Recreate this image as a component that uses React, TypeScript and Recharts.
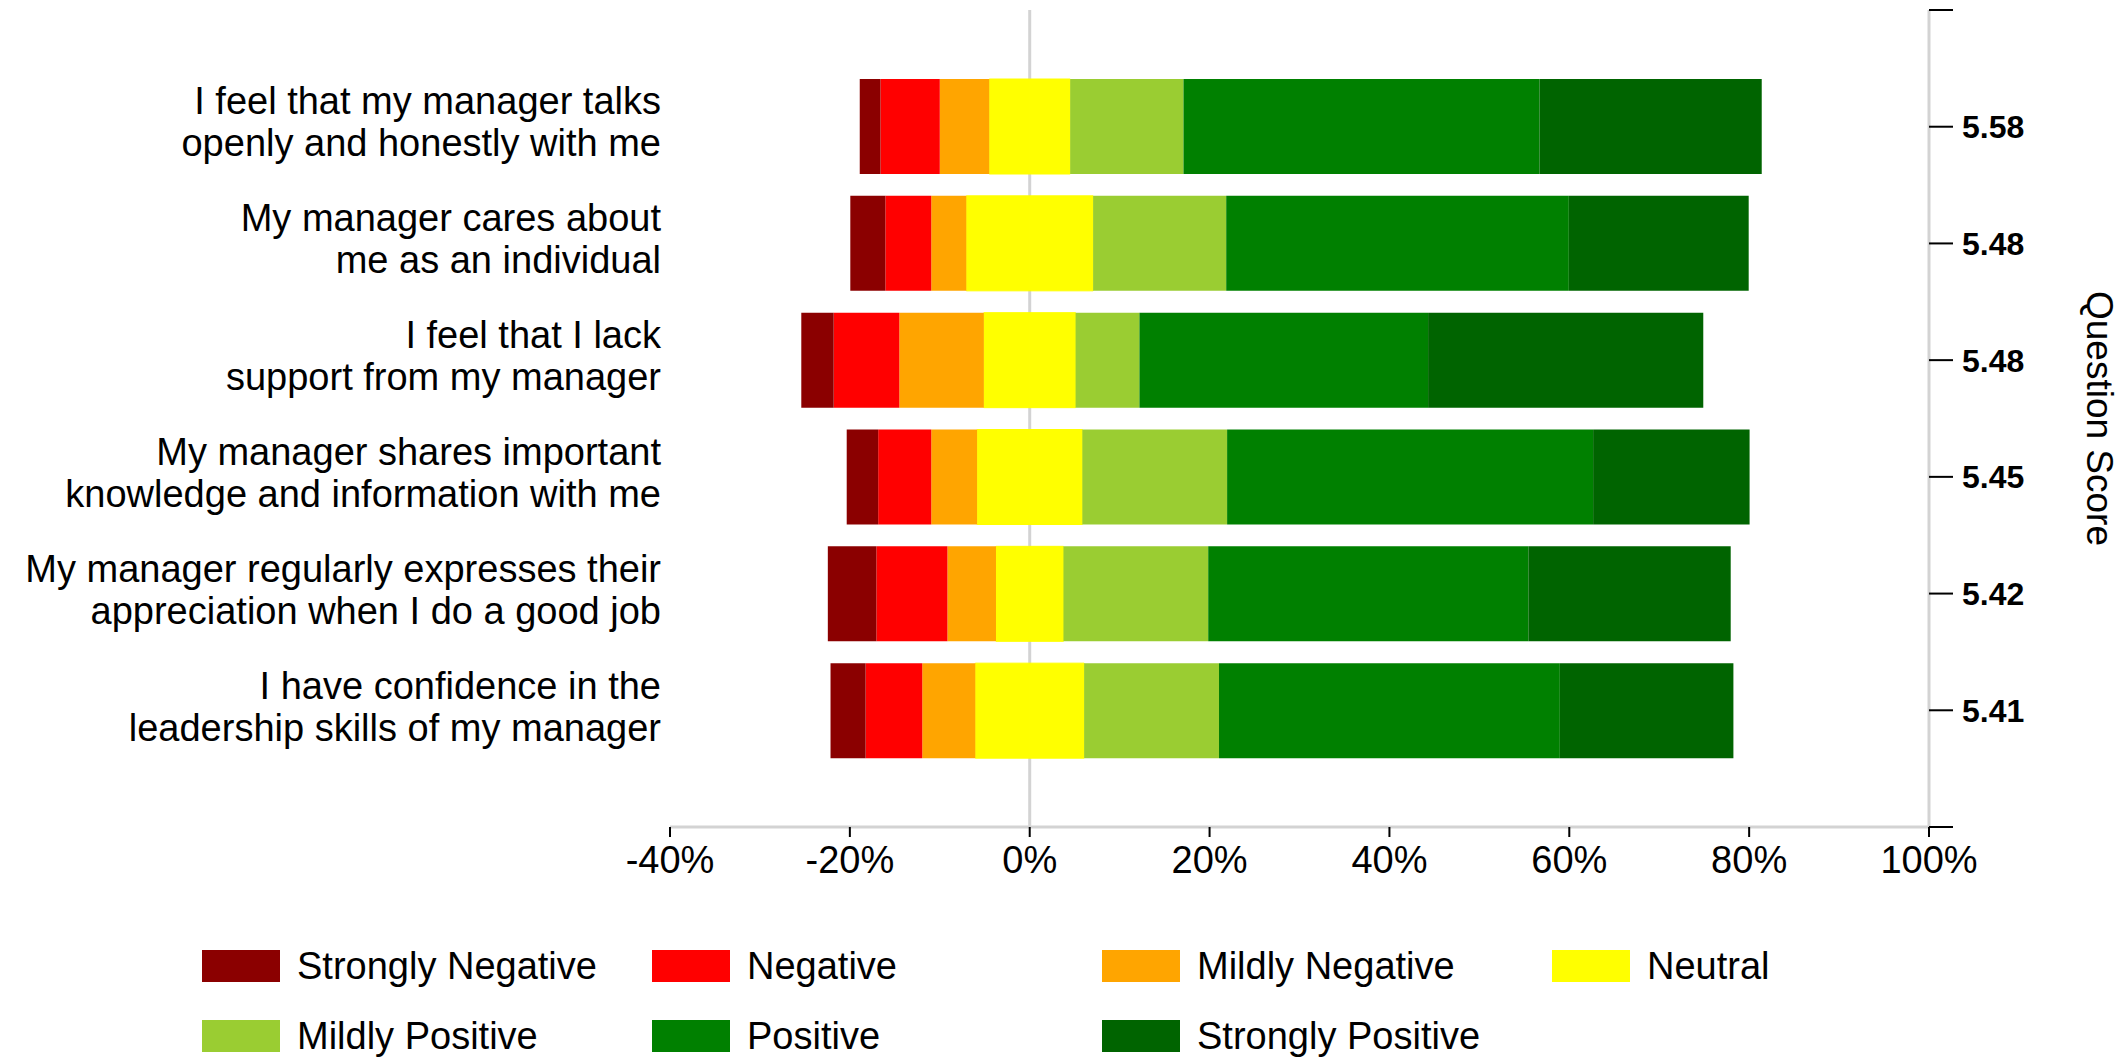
import React from 'react';
import { BarChart, Bar, XAxis, YAxis, CartesianGrid, Legend } from 'recharts';

const FONT = '"Liberation Sans", Arial, Helvetica, sans-serif';

const questions = [
  'I feel that my manager talks\nopenly and honestly with me',
  'My manager cares about\nme as an individual',
  'I feel that I lack\nsupport from my manager',
  'My manager shares important\nknowledge and information with me',
  'My manager regularly expresses their\nappreciation when I do a good job',
  'I have confidence in the\nleadership skills of my manager',
];
const scoreLabels = ['5.58', '5.48', '5.48', '5.45', '5.42', '5.41'];

const stronglyNegative = [2.3, 3.9, 3.6, 3.5, 5.4, 3.9];
const negative = [6.6, 5.1, 7.3, 5.9, 7.9, 6.3];
const mildlyNegative = [5.5, 3.9, 9.4, 5.1, 5.4, 5.9];
const neutral = [9.0, 14.1, 10.2, 11.7, 7.5, 12.1];
const mildlyPositive = [12.6, 14.8, 7.1, 16.1, 16.1, 15.0];
const positive = [39.6, 38.1, 32.1, 40.7, 35.6, 37.9];
const stronglyPositive = [24.7, 20.0, 30.6, 17.4, 22.5, 19.3];

const xTicks = [-40, -20, 0, 20, 40, 60, 80, 100];
const scoreTicks = [0, 1, 2, 3, 4, 5, 6, 7];
const zeroLine = [0];

const legendNames = [
  'Strongly Negative',
  'Negative',
  'Mildly Negative',
  'Neutral',
  'Mildly Positive',
  'Positive',
  'Strongly Positive',
];
const legendColors = ['#8B0000', '#FF0000', '#FFA500', '#FFFF00', '#9ACD32', '#008000', '#006400'];

const rows = questions.map((q, i) => ({
  question: q,
  pos: i + 1,
  neutralNeg: -neutral[i] / 2,
  neutralPos: neutral[i] / 2,
  mildlyNegative: -mildlyNegative[i],
  mildlyPositive: mildlyPositive[i],
  negative: -negative[i],
  positive: positive[i],
  stronglyNegative: -stronglyNegative[i],
  stronglyPositive: stronglyPositive[i],
}));

const QuestionTick = (props: any) => {
  const { x, y, payload } = props;
  const lines = String(payload.value).split('\n');
  return (
    <text x={x} y={y} textAnchor="end" fontSize={38} fill="#000" fontFamily={FONT}>
      {lines.map((l, i) => (
        <tspan key={i} x={x} y={y - 12 + i * 42}>
          {l}
        </tspan>
      ))}
    </text>
  );
};

const ScoreAxisLabel = (props: any) => {
  const vb = props.viewBox || {};
  const x = vb.x + 158;
  const y = vb.y + vb.height / 2;
  return (
    <text
      x={x}
      y={y}
      transform={`rotate(90, ${x}, ${y})`}
      textAnchor="middle"
      fontSize={37}
      fill="#000"
      fontFamily={FONT}
    >
      Question Score
    </text>
  );
};

const LegendGrid = () => (
  <div
    style={{
      display: 'grid',
      gridTemplateColumns: 'repeat(4, 450px)',
      rowGap: 38,
      paddingLeft: 202,
      fontFamily: FONT,
    }}
  >
    {legendNames.map((name, i) => (
      <div key={name} style={{ display: 'flex', alignItems: 'center', height: 32 }}>
        <div style={{ width: 78, height: 32, background: legendColors[i], marginRight: 17, flex: 'none' }} />
        <span style={{ fontSize: 38, lineHeight: '38px', color: '#000', whiteSpace: 'nowrap' }}>{name}</span>
      </div>
    ))}
  </div>
);

const seriesOrder: { key: string; color: string; name: string }[] = [
  { key: 'neutralNeg', color: legendColors[3], name: 'Neutral' },
  { key: 'neutralPos', color: legendColors[3], name: 'Neutral ' },
  { key: 'mildlyNegative', color: legendColors[2], name: 'Mildly Negative' },
  { key: 'mildlyPositive', color: legendColors[4], name: 'Mildly Positive' },
  { key: 'negative', color: legendColors[1], name: 'Negative' },
  { key: 'positive', color: legendColors[5], name: 'Positive' },
  { key: 'stronglyNegative', color: legendColors[0], name: 'Strongly Negative' },
  { key: 'stronglyPositive', color: legendColors[6], name: 'Strongly Positive' },
];

export default function App() {
  return (
    <div style={{ position: 'absolute', left: 0, top: 0, width: 2128, height: 1057, background: '#fff', fontFamily: FONT }}>
      <BarChart
        width={2128}
        height={1057}
        data={rows}
        layout="vertical"
        stackOffset="sign"
        margin={{ top: 10, right: 0, bottom: 170, left: 0 }}
        style={{ fontFamily: FONT }}
      >
        <CartesianGrid horizontal={false} vertical verticalValues={zeroLine} stroke="#d3d3d3" strokeWidth={3} />
        <XAxis
          type="number"
          domain={[-40, 100]}
          ticks={xTicks}
          allowDataOverflow
          tickFormatter={(v: number) => `${v}%`}
          axisLine={{ stroke: '#d3d3d3', strokeWidth: 3 }}
          tickLine={{ stroke: '#000', strokeWidth: 2 }}
          tickSize={10}
          tickMargin={9}
          height={60}
          tick={{ fontSize: 38, fill: '#000', fontFamily: FONT }}
        />
        <YAxis
          type="category"
          dataKey="question"
          width={670}
          axisLine={false}
          tickLine={false}
          tickSize={0}
          tickMargin={9}
          padding={{ top: 58, bottom: 58 }}
          tick={<QuestionTick />}
          interval={0}
        />
        <YAxis
          yAxisId="score"
          orientation="right"
          type="number"
          dataKey="pos"
          domain={[0, 7]}
          ticks={scoreTicks}
          allowDataOverflow
          width={199}
          tickFormatter={(v: number) => scoreLabels[v - 1] ?? ''}
          axisLine={{ stroke: '#d3d3d3', strokeWidth: 3 }}
          tickLine={{ stroke: '#000', strokeWidth: 2 }}
          tickSize={24}
          tickMargin={9}
          tick={{ fontSize: 32, fontWeight: 'bold', fill: '#000', fontFamily: FONT }}
          interval={0}
          label={ScoreAxisLabel}
        />
        {seriesOrder.map((s) => (
          <Bar
            key={s.key}
            dataKey={s.key}
            name={s.name}
            stackId="likert"
            fill={s.color}
            stroke={s.key.startsWith('neutral') ? s.color : 'none'}
            strokeWidth={s.key.startsWith('neutral') ? 1 : 0}
            barSize={95}
            isAnimationActive={false}
          />
        ))}
        <Legend
          layout="vertical"
          align="center"
          verticalAlign="middle"
          wrapperStyle={{ left: 0, top: 950, width: 2128, height: 110 }}
          content={() => <LegendGrid />}
        />
      </BarChart>
    </div>
  );
}
